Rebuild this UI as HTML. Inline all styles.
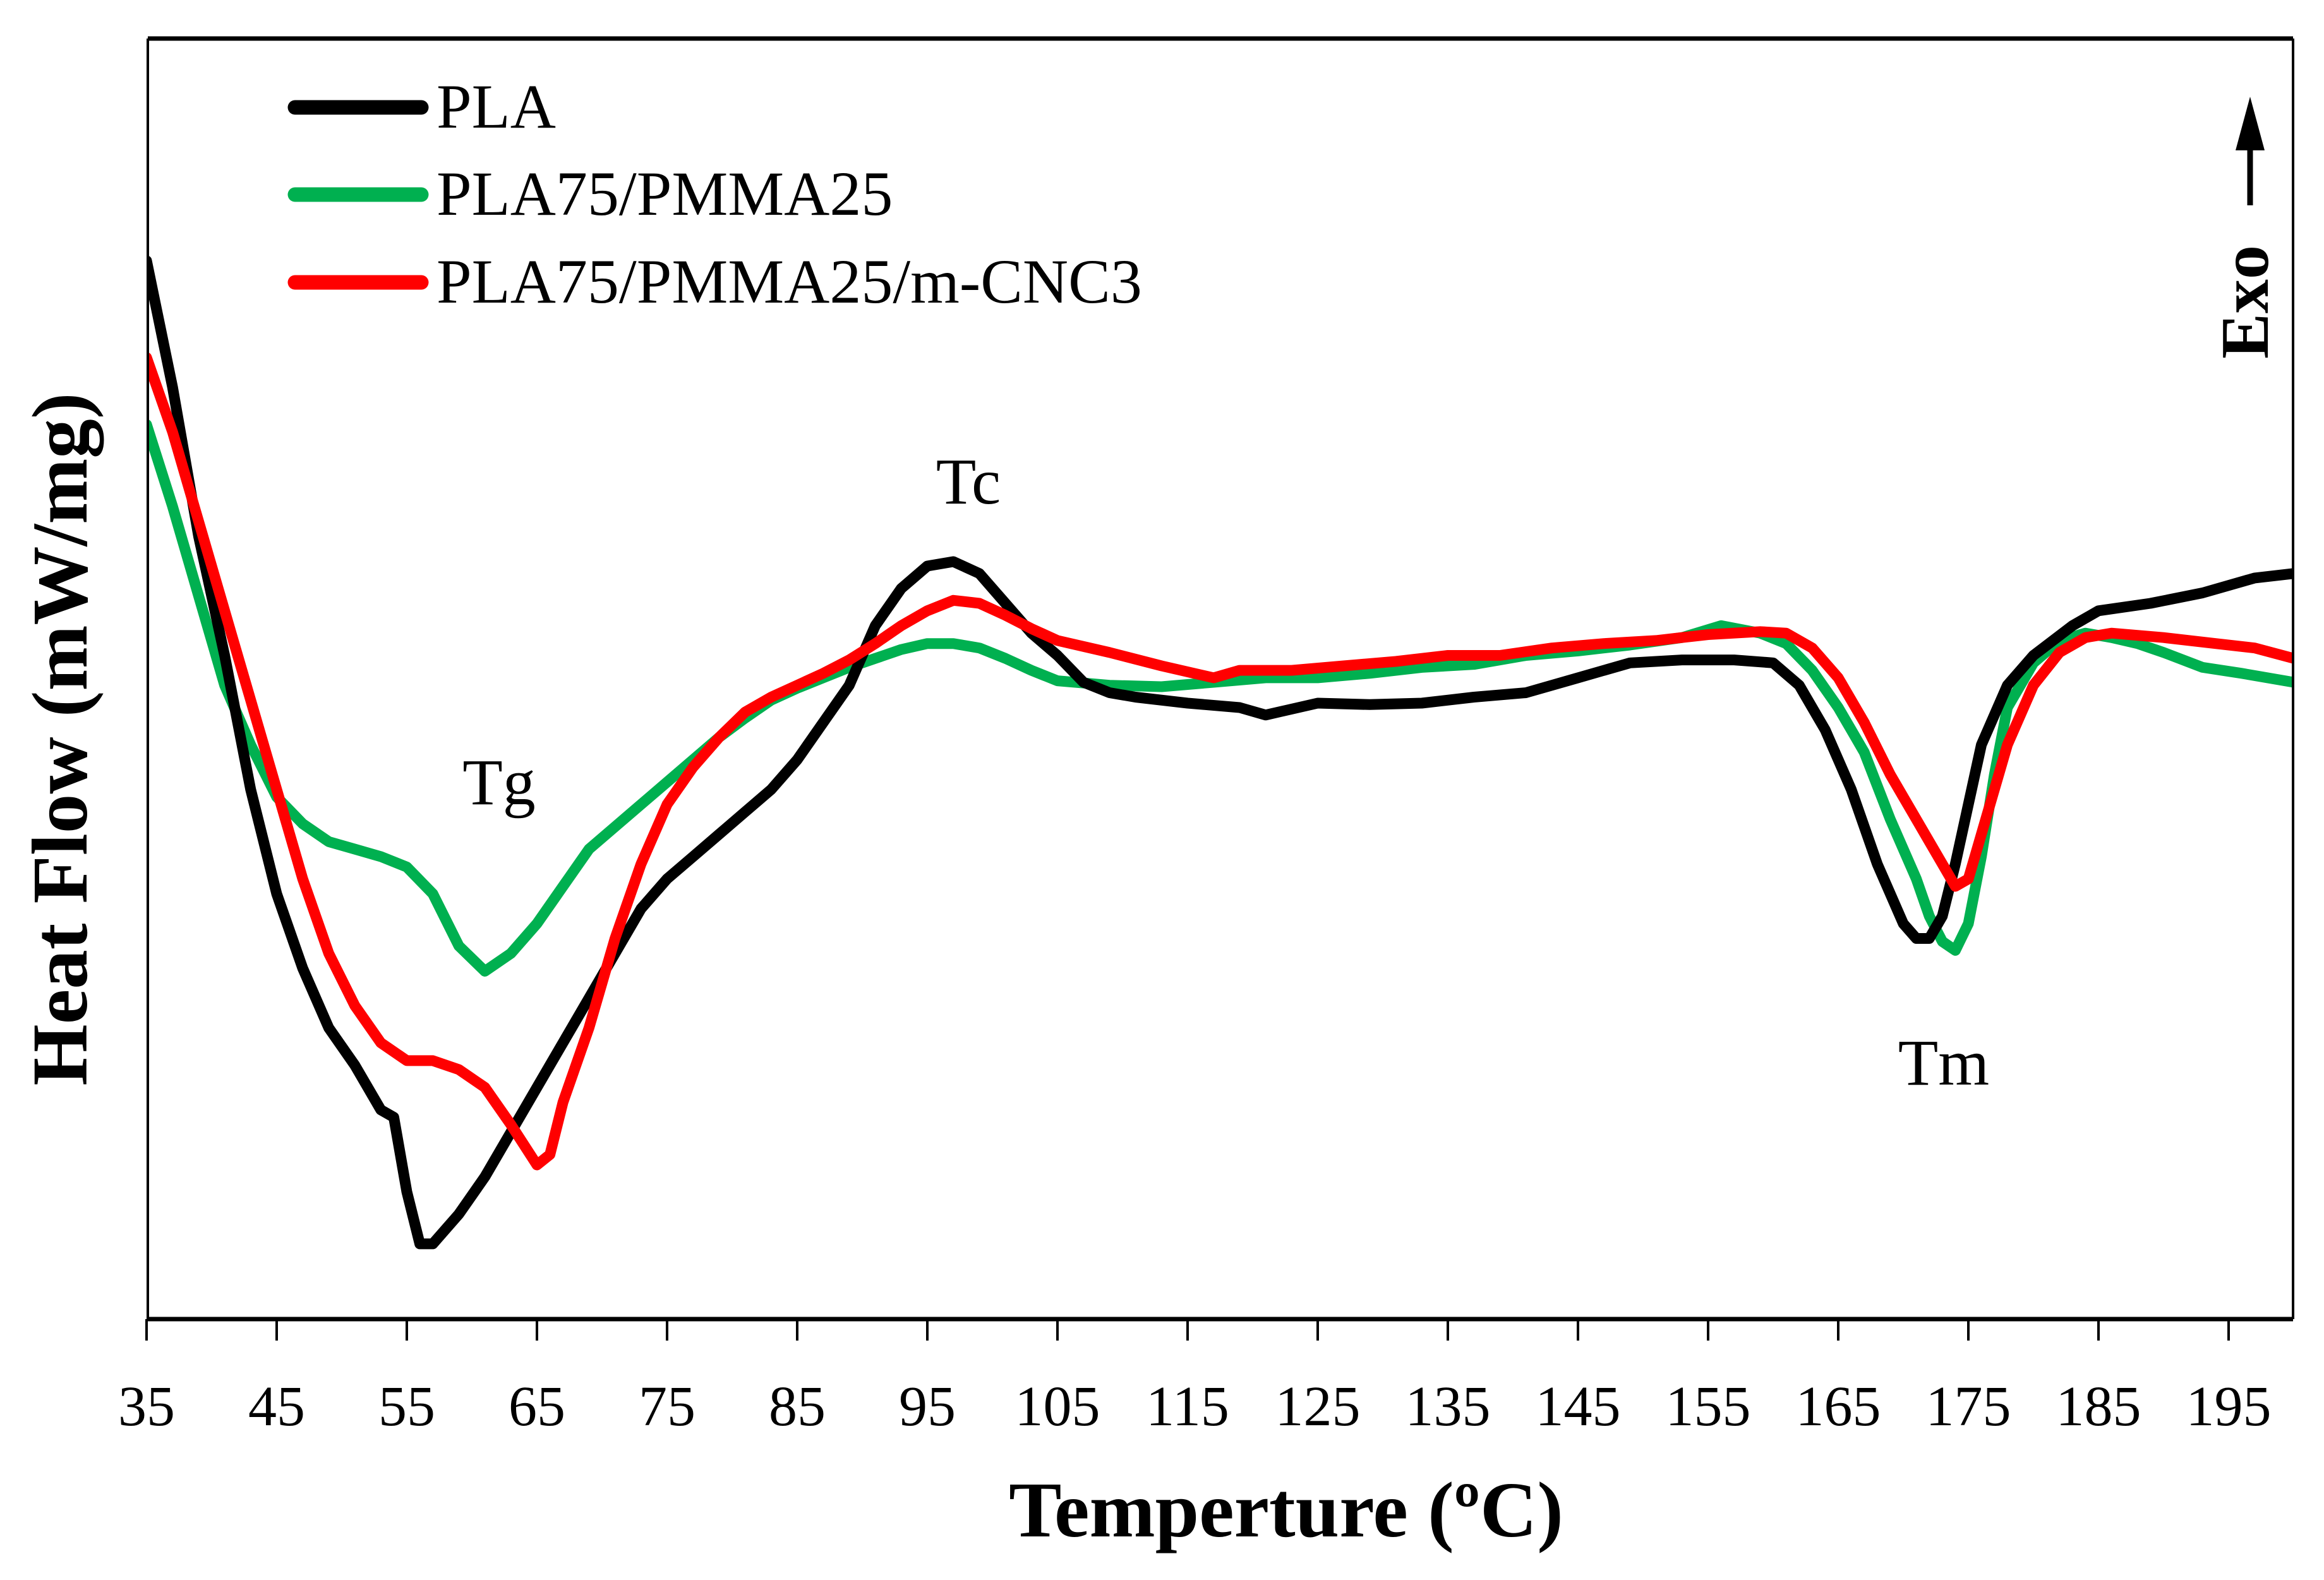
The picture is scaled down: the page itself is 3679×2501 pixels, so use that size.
<!DOCTYPE html>
<html><head><meta charset="utf-8"><style>
html,body{margin:0;padding:0;background:#fff;}
svg{display:block;}
text{font-family:"Liberation Serif",serif;fill:#000;}
</style></head><body>
<svg id="chart" width="3679" height="2501" viewBox="0 0 3679 2501" xmlns="http://www.w3.org/2000/svg">
<defs><clipPath id="pc"><rect x="234" y="61" width="3396" height="2027"/></clipPath></defs>
<rect x="0" y="0" width="3679" height="2501" fill="#fff"/>
<g id="series" clip-path="url(#pc)"></g>
<g id="axes"></g>
<g>
  <line x1="467" y1="170" x2="667" y2="170" stroke="#000" stroke-width="23" stroke-linecap="round"/>
  <text x="691" y="202" font-size="100">PLA</text>
  <line x1="467" y1="308" x2="667" y2="308" stroke="#00b050" stroke-width="23" stroke-linecap="round"/>
  <text x="691" y="340" font-size="100">PLA75/PMMA25</text>
  <line x1="467" y1="447" x2="667" y2="447" stroke="#ff0000" stroke-width="23" stroke-linecap="round"/>
  <text x="691" y="479" font-size="100">PLA75/PMMA25/m-CNC3</text>
</g>
<text x="790" y="1273" font-size="104" text-anchor="middle">Tg</text>
<text x="1533" y="797" font-size="104" text-anchor="middle">Tc</text>
<text x="3077" y="1717" font-size="104" text-anchor="middle">Tm</text>
<g>
  <polygon points="3562,153 3539,238 3585,238" fill="#000"/>
  <line x1="3562" y1="230" x2="3562" y2="325" stroke="#000" stroke-width="9"/>
  <text x="0" y="0" font-size="108" font-weight="bold" text-anchor="middle" transform="translate(3590,478) rotate(-90)">Exo</text>
</g>
<text x="2036" y="2432" font-size="125" font-weight="bold" text-anchor="middle">Temperture (ºC)</text>
<text x="0" y="0" font-size="125" font-weight="bold" text-anchor="middle" transform="translate(137,1170) rotate(-90)">Heat Flow (mW/mg)</text>
</svg>
<script>
const xTicks=[35,45,55,65,75,85,95,105,115,125,135,145,155,165,175,185,195];
const plaT=[35,37,39,41,43,45,47,49,51,53,54,55,56,57,59,61,63,65,67,69,71,73,75,77,79,81,83,85,87,89,91,93,95,97,99,101,103,105,107,109,111,115,119,121,125,129,133,137,141,145,149,153,157,160,162,164,166,168,170,171,172,173,174,175,176,178,180,183,185,189,193,197,200];
const plaV=[175,260,360,440,530,600,650,690,715,745,750,800,835,835,815,790,760,730,700,670,640,610,590,575,560,545,530,510,485,460,420,395,380,377,385,405,425,440,458,465,468,472,475,480,472,473,472,468,465,455,445,443,443,445,460,490,530,580,620,630,630,615,580,540,500,460,440,420,410,405,398,388,385];
const grnT=[35,37,39,41,43,45,47,49,51,53,55,57,59,61,63,65,67,69,71,73,75,77,79,81,83,85,87,89,91,93,95,97,99,101,103,105,109,113,117,121,125,129,133,137,141,145,149,153,156,159,161,163,165,167,169,171,172,173,174,175,176,177,178,180,182,184,186,188,190,193,196,200];
const grnV=[285,340,400,460,500,535,553,565,570,575,582,600,635,652,640,620,595,570,555,540,525,510,495,482,470,462,455,448,442,436,432,432,435,442,450,457,460,461,458,455,455,452,448,446,440,437,433,428,420,425,432,450,475,505,550,590,615,632,638,620,575,520,475,445,430,425,428,432,438,448,452,458];
const redT=[35,37,39,41,43,45,47,49,51,53,55,57,59,61,63,65,66,67,69,71,73,75,77,79,81,83,85,87,89,91,93,95,97,99,101,103,105,109,113,117,119,123,127,131,135,139,143,147,151,155,159,161,163,165,167,169,171,173,174,175,176,178,180,182,184,186,190,194,197,200];
const redV=[240,290,350,410,470,530,590,640,675,700,712,712,718,730,755,782,775,740,690,630,580,540,515,495,478,468,460,452,443,432,420,410,403,405,413,422,430,438,447,455,450,450,447,444,440,440,435,432,430,426,424,425,435,455,485,520,550,580,595,590,560,500,460,438,428,425,428,432,435,442];
const NS='http://www.w3.org/2000/svg';
function xs(t){return 232+(t-35)*20.6;}
function ys(v){return v*2.358;}
function mk(tag,attrs){const e=document.createElementNS(NS,tag);for(const k in attrs)e.setAttribute(k,attrs[k]);return e;}
const sg=document.getElementById('series');
function drawSeries(T,V,color,name){
  let d='';
  for(let i=0;i<T.length;i++){d+=(i?'L':'M')+xs(T[i]).toFixed(1)+','+ys(V[i]).toFixed(1);}
  const p=mk('path',{d:d,fill:'none',stroke:color,'stroke-width':17,'stroke-linejoin':'round','stroke-linecap':'round'});
  
  
  sg.appendChild(p);
}
drawSeries(grnT,grnV,'#00b050','series-pla75-pmma25');
drawSeries(plaT,plaV,'#000000','series-pla');
drawSeries(redT,redV,'#ff0000','series-pla75-pmma25-mcnc3');
const ax=document.getElementById('axes');
const frame=[['M234,61L3630,61',7],['M234,61L234,2088',4],['M3630,61L3630,2088',4],['M234,2088L3630,2088',7]];
frame.forEach(function(f,i){
  const p=mk('path',{d:f[0],stroke:'#000','stroke-width':f[1],fill:'none'});
  
  
  ax.appendChild(p);
});
xTicks.forEach(function(t){
  const x=xs(t);
  const l=mk('line',{x1:x,y1:2088,x2:x,y2:2122,stroke:'#000','stroke-width':4});
  
  
  ax.appendChild(l);
  const tx=mk('text',{x:x,y:2256,'font-size':90,'text-anchor':'middle'});
  tx.textContent=String(t);
  
  
  ax.appendChild(tx);
});
</script>
</body></html>
